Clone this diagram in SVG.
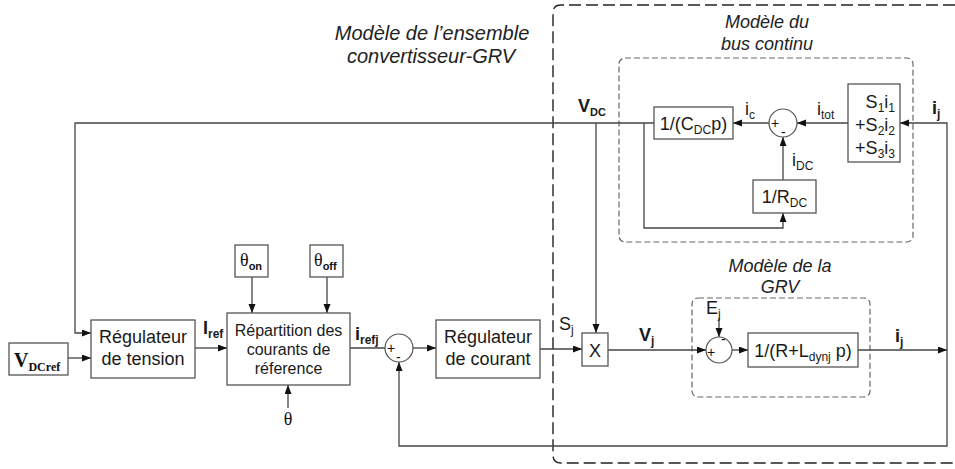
<svg xmlns="http://www.w3.org/2000/svg" width="955" height="469" viewBox="0 0 955 469">
<defs>
<marker id="ah" markerUnits="userSpaceOnUse" markerWidth="10" markerHeight="8" refX="9" refY="3.5" orient="auto">
<path d="M0,0 L9,3.5 L0,7 z" fill="#111"/>
</marker>
<style>
.box{fill:#fff;stroke:#555;stroke-width:1.3}
.sum{fill:#fff;stroke:#555;stroke-width:1.2}
.ln{fill:none;stroke:#444;stroke-width:1.3}
.arr{fill:none;stroke:#444;stroke-width:1.3;marker-end:url(#ah)}
.t{font-family:"Liberation Sans",Arial,sans-serif;font-size:18px;fill:#1a1a1a}
.tc{text-anchor:middle}
.b{font-weight:bold}
.it{font-family:"Liberation Sans",Arial,sans-serif;font-style:italic;font-size:18px;fill:#222;text-anchor:middle}
.sg{font-family:"Liberation Sans",Arial,sans-serif;font-size:14px;fill:#111}
.sr{font-family:"Liberation Serif","Times New Roman",serif;fill:#111}
.dout{fill:none;stroke:#222;stroke-width:1.4;stroke-dasharray:12,5}
.din{fill:none;stroke:#666;stroke-width:1.2;stroke-dasharray:6,3}
</style>
</defs>

<g id="frames">
<path class="dout" d="M955,5 H561 Q553,5 553,13 V455 Q553,463 561,463 H955"/>
<rect class="din" x="619" y="58" width="294" height="184" rx="6"/>
<rect class="din" x="692" y="298" width="178" height="99" rx="6"/>
<text class="it" style="font-size:20px" x="432" y="40">Modèle de l’ensemble</text>
<text class="it" style="font-size:20px" x="431" y="63">convertisseur-GRV</text>
<text class="it" x="767" y="28">Modèle du</text>
<text class="it" x="767" y="50">bus continu</text>
<text class="it" x="780" y="272">Modèle de la</text>
<text class="it" x="780" y="293">GRV</text>
</g>

<g id="connectors">
<path class="arr" d="M654,123 H75 V333 H91"/>
<path class="arr" d="M68,358 H91"/>
<path class="arr" d="M195,348 H227"/>
<path class="arr" d="M252,277 V313"/>
<path class="arr" d="M327,277 V313"/>
<path class="arr" d="M288,408 V385"/>
<path class="ln" d="M350,348 H385"/>
<path class="arr" d="M413,348 H436"/>
<path class="arr" d="M540,349 H582"/>
<path class="arr" d="M596,123 V333"/>
<path class="arr" d="M608,350 H706"/>
<path class="arr" d="M719,318 V337"/>
<path class="arr" d="M732,350 H748"/>
<path class="arr" d="M858,350 H947"/>
<path class="arr" d="M947,350 V123 H900"/>
<path class="arr" d="M947,350 V446 H399 V362"/>
<path class="arr" d="M848,123 H797"/>
<path class="arr" d="M769,123 H733"/>
<path class="arr" d="M783,180 V137"/>
<path class="arr" d="M644,123 V228 H783 V213"/>
</g>

<g id="n-vdcref">
<rect class="box" x="9" y="343" width="59" height="32"/>
<text class="sr" font-weight="bold" font-size="20" x="14" y="367">V<tspan font-size="12" dy="4">DCref</tspan></text>
</g>

<g id="n-regtension">
<rect class="box" x="91" y="320" width="104" height="58"/>
<text class="t tc" x="143" y="343">Régulateur</text>
<text class="t tc" x="143" y="365">de tension</text>
</g>

<g id="n-theta-on">
<rect class="box" x="235" y="245" width="33" height="32"/>
<text class="sr" font-size="18" x="240" y="266">θ<tspan font-family="Liberation Sans" font-weight="bold" font-size="11" dy="4">on</tspan></text>
</g>

<g id="n-theta-off">
<rect class="box" x="310" y="245" width="33" height="32"/>
<text class="sr" font-size="18" x="314" y="266">θ<tspan font-family="Liberation Sans" font-weight="bold" font-size="11" dy="4">off</tspan></text>
</g>

<g id="n-repartition">
<rect class="box" x="227" y="313" width="123" height="72"/>
<text class="t tc" style="font-size:16px" x="288.5" y="336">Répartition des</text>
<text class="t tc" style="font-size:16px" x="288.5" y="355">courants de</text>
<text class="t tc" style="font-size:16px" x="288.5" y="374">réference</text>
<text class="sr" font-size="18" x="288" y="425" text-anchor="middle">θ</text>
</g>

<g id="n-sum1">
<circle class="sum" cx="399" cy="348" r="14"/>
<text class="sg" x="387" y="353">+</text>
<text class="sg" x="396" y="362">-</text>
</g>

<g id="n-regcourant">
<rect class="box" x="436" y="320" width="104" height="58"/>
<text class="t tc" x="488" y="343">Régulateur</text>
<text class="t tc" x="488" y="365">de courant</text>
</g>

<g id="n-x">
<rect class="box" x="582" y="333" width="26" height="33"/>
<text class="t tc" x="595" y="357">X</text>
</g>

<g id="n-sum-grv">
<circle class="sum" cx="719" cy="350" r="13"/>
<text class="sg" x="707" y="357">+</text>
<text class="sg" x="721" y="344">-</text>
</g>

<g id="n-grv">
<rect class="box" x="748" y="333" width="110" height="34"/>
<text class="t tc" x="803" y="357">1/(R+L<tspan font-size="12" dy="4">dynj</tspan><tspan dy="-4"> p)</tspan></text>
</g>

<g id="n-cdc">
<rect class="box" x="654" y="107" width="79" height="32"/>
<text class="t tc" x="693.5" y="130">1/(C<tspan font-size="12" dy="4">DC</tspan><tspan dy="-4">p)</tspan></text>
</g>

<g id="n-sum-bus">
<circle class="sum" cx="783" cy="123" r="14"/>
<text class="sg" x="771" y="128">+</text>
<text class="sg" x="781" y="137">-</text>
</g>

<g id="n-rdc">
<rect class="box" x="753" y="180" width="63" height="33"/>
<text class="t tc" x="784.5" y="203">1/R<tspan font-size="12" dy="4">DC</tspan></text>
</g>

<g id="n-sum-s">
<rect class="box" x="848" y="84" width="52" height="78"/>
<text class="t" text-anchor="end" x="895" y="108">S<tspan font-size="12" dy="4">1</tspan><tspan dy="-4">i</tspan><tspan font-size="12" dy="4">1</tspan></text>
<text class="t" text-anchor="end" x="895" y="131">+S<tspan font-size="12" dy="4">2</tspan><tspan dy="-4">i</tspan><tspan font-size="12" dy="4">2</tspan></text>
<text class="t" text-anchor="end" x="895" y="154">+S<tspan font-size="12" dy="4">3</tspan><tspan dy="-4">i</tspan><tspan font-size="12" dy="4">3</tspan></text>
</g>

<g id="labels">
<text class="t b" x="578" y="112">V<tspan font-size="11" dy="4">DC</tspan></text>
<text class="t" x="745" y="115">i<tspan font-size="12" dy="4">c</tspan></text>
<text class="t" x="817" y="115">i<tspan font-size="12" dy="4">tot</tspan></text>
<text class="t" x="792" y="166">i<tspan font-size="12" dy="4">DC</tspan></text>
<text class="t b" x="932" y="114">i<tspan font-size="12" dy="4">j</tspan></text>
<text class="t" x="559" y="330">S<tspan font-size="12" dy="4">j</tspan></text>
<text class="t b" x="639" y="341">V<tspan font-size="12" dy="4">j</tspan></text>
<text class="t" x="706" y="314">E<tspan font-size="12" dy="4">j</tspan></text>
<text class="t b" x="895" y="342">i<tspan font-size="12" dy="4">j</tspan></text>
<text class="t b" x="203" y="334">I<tspan font-size="12" dy="4">ref</tspan></text>
<text class="t b" x="355" y="340">i<tspan font-size="12" dy="4">refj</tspan></text>
</g>
</svg>
